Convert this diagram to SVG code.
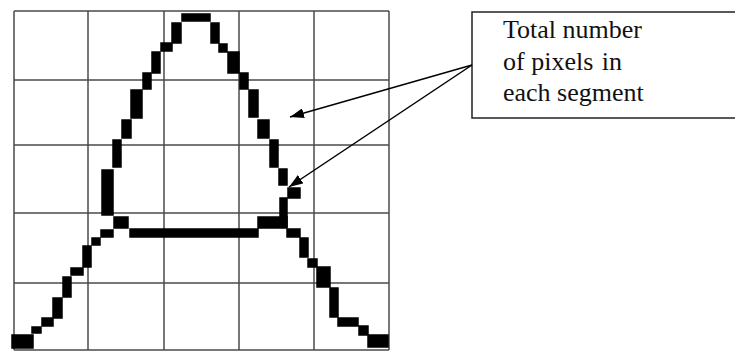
<svg xmlns="http://www.w3.org/2000/svg" width="735" height="351" viewBox="0 0 735 351">
<style>
.grid line{stroke:#4a4a4a;stroke-width:1.5}
.px rect{fill:#000;stroke:#000;stroke-width:1.5}
.conn line{stroke:#000;stroke-width:1.5}
.lbl{font-family:"Liberation Serif","Times New Roman",serif;font-size:26px;fill:#111}
</style>
<defs>
<marker id="ah" markerWidth="14" markerHeight="10" refX="14" refY="5" orient="auto" markerUnits="userSpaceOnUse">
<path d="M0,0 L14,5 L0,10 Z" fill="#000"/>
</marker>
</defs>
<rect width="735" height="351" fill="#fff"/>
<g id="grid" class="grid">
<line x1="14" y1="11" x2="14" y2="350"/>
<line x1="88" y1="11" x2="88" y2="350"/>
<line x1="164" y1="11" x2="164" y2="350"/>
<line x1="239" y1="11" x2="239" y2="350"/>
<line x1="314" y1="11" x2="314" y2="350"/>
<line x1="389" y1="11" x2="389" y2="350"/>
<line x1="14" y1="11" x2="389" y2="11"/>
<line x1="14" y1="80" x2="389" y2="80"/>
<line x1="14" y1="145" x2="389" y2="145"/>
<line x1="14" y1="213" x2="389" y2="213"/>
<line x1="14" y1="283" x2="389" y2="283"/>
<line x1="14" y1="350" x2="389" y2="350"/>
</g>
<g id="shape" class="px">
<rect x="182" y="14" width="28" height="7"/>
<rect x="172" y="23" width="9" height="20"/>
<rect x="161" y="43" width="11" height="8"/>
<rect x="152" y="52" width="8" height="21"/>
<rect x="143" y="73" width="8" height="16"/>
<rect x="131" y="90" width="11" height="28"/>
<rect x="122" y="120" width="9" height="18"/>
<rect x="113" y="140" width="8" height="27"/>
<rect x="102" y="170" width="11" height="45"/>
<rect x="114" y="217" width="14" height="11"/>
<rect x="130" y="229" width="128" height="8"/>
<rect x="101" y="230" width="12" height="7"/>
<rect x="92" y="238" width="8" height="7"/>
<rect x="83" y="246" width="8" height="21"/>
<rect x="71" y="268" width="12" height="7"/>
<rect x="63" y="277" width="8" height="20"/>
<rect x="53" y="298" width="9" height="20"/>
<rect x="42" y="318" width="11" height="8"/>
<rect x="32" y="327" width="9" height="6"/>
<rect x="12" y="335" width="21" height="13"/>
<rect x="211" y="23" width="8" height="20"/>
<rect x="219" y="44" width="8" height="8"/>
<rect x="228" y="52" width="11" height="21"/>
<rect x="240" y="73" width="8" height="16"/>
<rect x="249" y="90" width="9" height="27"/>
<rect x="258" y="120" width="11" height="18"/>
<rect x="270" y="140" width="8" height="27"/>
<rect x="279" y="169" width="8" height="16"/>
<rect x="288" y="188" width="12" height="10"/>
<rect x="280" y="198" width="7" height="29"/>
<rect x="258" y="217" width="29" height="11"/>
<rect x="287" y="229" width="13" height="8"/>
<rect x="300" y="238" width="8" height="19"/>
<rect x="308" y="259" width="9" height="8"/>
<rect x="317" y="267" width="13" height="20"/>
<rect x="330" y="288" width="8" height="29"/>
<rect x="338" y="318" width="20" height="8"/>
<rect x="359" y="326" width="9" height="9"/>
<rect x="368" y="335" width="20" height="12"/>
</g>
<g id="label">
<rect x="472" y="12" width="270" height="106" fill="#fff" stroke="#222" stroke-width="1.5"/>
<text class="lbl" x="503" y="38">Total number</text>
<text class="lbl" x="503" y="70">of pixels <tspan dx="2">in</tspan></text>
<text class="lbl" x="503" y="101">each segment</text>
</g>
<g id="connectors" class="conn">
<line x1="472" y1="65" x2="290" y2="117" marker-end="url(#ah)"/>
<line x1="472" y1="65" x2="289" y2="187" marker-end="url(#ah)"/>
</g>
</svg>
